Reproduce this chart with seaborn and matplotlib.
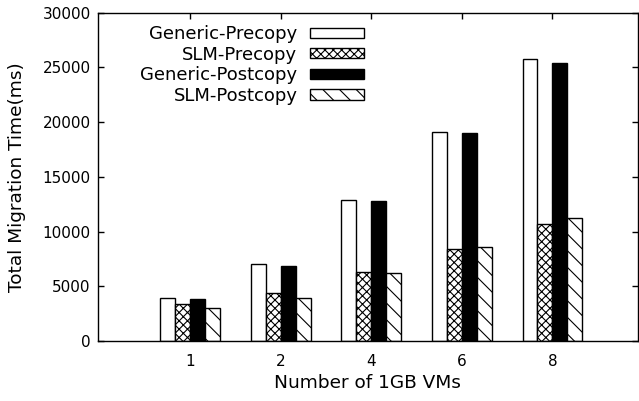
import matplotlib
matplotlib.use("Agg")
import matplotlib.pyplot as plt
import matplotlib.patches as mpatches
import seaborn as sns
import pandas as pd

categories = ["1", "2", "4", "6", "8"]
series_names = ["Generic-Precopy", "SLM-Precopy", "Generic-Postcopy", "SLM-Postcopy"]
generic_precopy = [3900, 7000, 12900, 19100, 25800]
slm_precopy = [3400, 4400, 6300, 8450, 10700]
generic_postcopy = [3800, 6900, 12800, 19050, 25450]
slm_postcopy = [3000, 3900, 6200, 8600, 11200]
y_ticks = [0, 5000, 10000, 15000, 20000, 25000, 30000]

rows = []
for name, vals in zip(series_names, [generic_precopy, slm_precopy, generic_postcopy, slm_postcopy]):
    for c, v in zip(categories, vals):
        rows.append({"VMs": c, "Series": name, "Time": v})
df = pd.DataFrame(rows)

sns.set_style("ticks")
plt.rcParams["font.family"] = ["DejaVu Sans"]
plt.rcParams["hatch.linewidth"] = 0.8
plt.rcParams["text.color"] = "black"
plt.rcParams["axes.labelcolor"] = "black"
plt.rcParams["xtick.color"] = "black"
plt.rcParams["ytick.color"] = "black"

fig = plt.figure(figsize=(6.39, 4.01), dpi=100)
ax = fig.add_axes([0.153, 0.1496, 0.8447, 0.8187])

sns.barplot(data=df, x="VMs", y="Time", hue="Series", order=categories,
            hue_order=series_names, width=0.66, ax=ax, errorbar=None,
            legend=False, saturation=1)

styles = [("white", ""), ("white", "xxxx"), ("black", ""), ("white", "\\\\")]
for cont, (fc, h) in zip(ax.containers, styles):
    for p in cont:
        p.set_facecolor(fc)
        p.set_edgecolor("black")
        p.set_linewidth(1.0)
        p.set_hatch(h)

ax.set_xlim(-1.02, 4.94)
ax.set_ylim(0, 30000)
ax.set_yticks(y_ticks)
ax.set_xlabel("Number of 1GB VMs", fontsize=13.3)
ax.set_ylabel("Total Migration Time(ms)", fontsize=13.3, labelpad=11.8)
ax.tick_params(axis="both", direction="in", length=4, width=1,
               top=True, right=True, labelsize=11, colors="black")
ax.tick_params(axis="x", pad=9)
ax.tick_params(axis="y", pad=5)
for s in ax.spines.values():
    s.set_linewidth(1.0)
    s.set_color("black")

leg_handles = []
for fc, h in styles:
    leg_handles.append(mpatches.Patch(facecolor=fc, edgecolor="black", hatch=h, linewidth=1.0))
ax.legend(leg_handles, series_names, loc="upper right", bbox_to_anchor=(0.493, 0.962),
          frameon=False, markerfirst=False, fontsize=13, handlelength=3.0,
          handleheight=0.5, labelspacing=0.14, borderpad=0, borderaxespad=0,
          handletextpad=0.68)

fig.savefig("out.png", dpi=100)
